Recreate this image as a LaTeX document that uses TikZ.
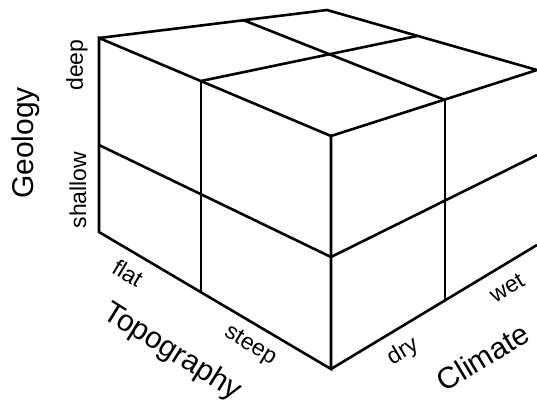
\documentclass[tikz,border=0pt]{standalone}
\usepackage{fontspec}
\setmainfont{Liberation Sans}
\usetikzlibrary{calc}

\begin{document}
\begin{tikzpicture}[
  x=0.5pt, y=-0.5pt,
  cube/.style={line width=1.3pt, line join=miter},
  axislabel/.style={font=\fontsize{15}{18}\selectfont, inner sep=0pt},
  catlabel/.style={font=\fontsize{11.5}{13}\selectfont, inner sep=0pt}
]
  \useasboundingbox (0,0) rectangle (537,409);

  % outer corners
  \coordinate (topleft)  at (99,38);
  \coordinate (topback)  at (327,10);
  \coordinate (topright) at (537,70);
  \coordinate (topfront) at (331,136);
  \coordinate (botfront) at (331,369);
  \coordinate (botleft)  at (99,232);
  \coordinate (botright) at (537,245);

  % dividing points
  \coordinate (lmidtop) at (201,81);
  \coordinate (lmidbot) at (201,292);
  \coordinate (lmidl)   at (99,145);
  \coordinate (fmid)    at (331,257);
  \coordinate (rmidtop) at (445,100);
  \coordinate (rmidbot) at (445,300);
  \coordinate (rmidr)   at (537,155);
  \coordinate (tmidl)   at (243,20);
  \coordinate (tmidr)   at (417,36);

  % faces
  \draw[cube] (topleft) -- (topfront) -- (botfront) -- (botleft) -- cycle;
  \draw[cube] (topleft) -- (topback) -- (topright) -- (topfront);
  \draw[cube] (botfront) -- (botright);

  % grid lines
  \draw[cube] (lmidtop) -- (lmidbot);
  \draw[cube] (lmidl) -- (fmid) -- (rmidr);
  \draw[cube] (rmidtop) -- (rmidbot);
  \draw[cube] (tmidl) -- (rmidtop);
  \draw[cube] (lmidtop) -- (tmidr);

  % labels
  \node[axislabel, rotate=90]  (geo)     at (26,143)  {Geology};
  \node[catlabel, rotate=90]   (deep)    at (77,65)   {deep};
  \node[catlabel, rotate=90]   (shallow) at (78,190)  {shallow};
  \node[axislabel, rotate=-32] (topo)    at (172,352) {Topography};
  \node[catlabel, rotate=-31]  (flat)    at (128,273) {flat};
  \node[catlabel, rotate=-31]  (steep)   at (250,346) {steep};
  \node[axislabel, rotate=31]  (clim)    at (483,357) {Climate};
  \node[catlabel, rotate=31]   (dry)     at (403,352) {dry};
  \node[catlabel, rotate=31]   (wet)     at (507,288) {wet};
\end{tikzpicture}
\end{document}
